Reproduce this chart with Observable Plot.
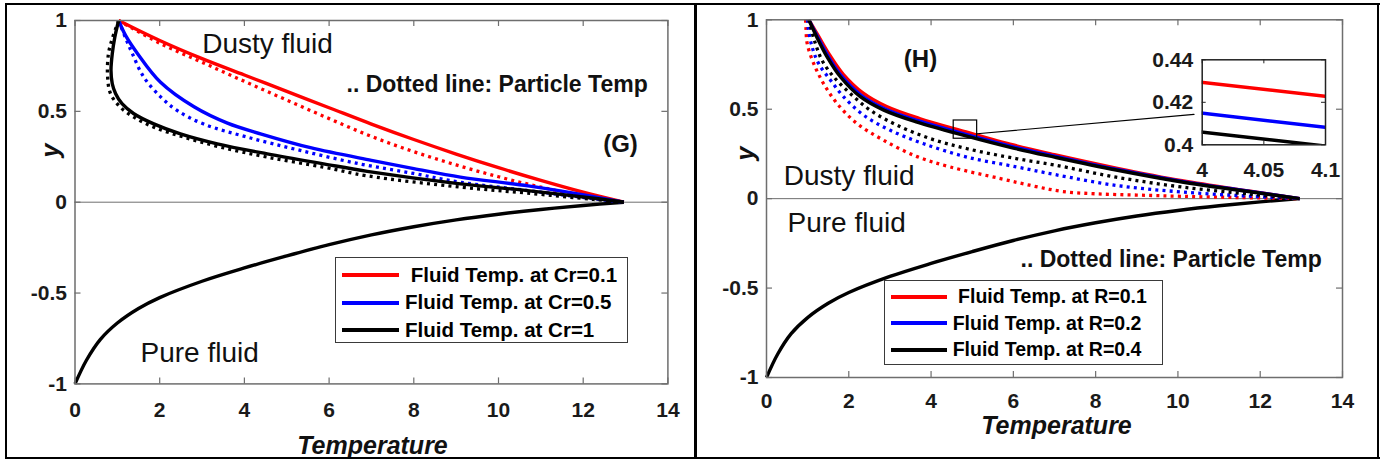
<!DOCTYPE html>
<html>
<head>
<meta charset="utf-8">
<script src="https://cdn.jsdelivr.net/npm/d3@7"></script>
<script src="https://cdn.jsdelivr.net/npm/@observablehq/plot@0.6"></script>
<style>
  html, body { margin: 0; padding: 0; background: #fff; }
  #fig { position: relative; width: 1382px; height: 462px; overflow: hidden; background: #fff;
         font-family: "Liberation Sans", Arial, Helvetica, sans-serif; }
  .pane { position: absolute; }
  .pane svg { overflow: visible; }
  .rule { position: absolute; background: #000; }
  .legend { position: absolute; background: #fff; border: 1.5px solid #3a3a3a; box-sizing: border-box; }
  .legend .sw { position: absolute; height: 4px; }
  .legend .lab { position: absolute; white-space: pre; font-weight: bold; color: #000; line-height: 1; }
</style>
</head>
<body>
<div id="fig"></div>
<script>
// ---------- axis ticks ----------
const xTicks = [0, 2, 4, 6, 8, 10, 12, 14];
const yTicks = [-1, -0.5, 0, 0.5, 1];
const insetXTicks = [4, 4.05, 4.1];
const insetYTicks = [0.4, 0.42, 0.44];

// ---------- pure fluid (same in both panels) [Temperature, y] ----------
const pureFluid = [[0,-1],[0.27,-0.87],[0.6,-0.755],[1.0,-0.665],[1.5,-0.585],[2,-0.525],[3,-0.435],
  [4,-0.362],[5,-0.296],[6,-0.234],[7,-0.18],[8,-0.135],[9,-0.097],[10,-0.066],[11,-0.04],[12,-0.018],[12.96,0]];

// ---------- panel (G): dusty fluid, Cr = 0.1, 0.5, 1 ----------
const gFluidCr01 = [[1.03,1],[2,0.89],[3,0.79],[4,0.70],[5,0.61],[6,0.52],[7,0.43],[8,0.345],[9,0.265],
  [10,0.19],[11,0.12],[12,0.055],[12.96,0]];
const gParticleCr01 = [[1.03,1],[2,0.875],[3,0.77],[4,0.665],[5,0.562],[6,0.46],[7,0.362],[8,0.278],
  [9,0.205],[10,0.14],[11,0.083],[12,0.035],[12.96,0]];
const gFluidCr05 = [[1.03,1],[1.2,0.915],[1.47,0.82],[2.02,0.66],[2.81,0.525],[3.6,0.435],[4.4,0.375],
  [5.56,0.30],[7,0.23],[8,0.185],[9.1,0.138],[10.7,0.09],[12.25,0.031],[12.96,0]];
const gParticleCr05 = [[1.03,1],[1.2,0.9],[1.35,0.82],[1.62,0.69],[2.02,0.58],[2.41,0.505],[3.04,0.43],
  [4.07,0.358],[5.32,0.285],[6.74,0.21],[8,0.158],[9.1,0.11],[10.7,0.064],[12.25,0.019],[12.96,0]];
const gFluidCr1 = [[1.03,1],[0.94,0.908],[0.88,0.817],[0.85,0.725],[0.88,0.652],[0.96,0.597],[1.11,0.542],
  [1.39,0.487],[1.86,0.431],[2.49,0.376],[3.36,0.321],[4.54,0.266],[5.87,0.211],[6.9,0.17],[9.1,0.101],
  [10.68,0.064],[12.25,0.022],[12.96,0]];
const gParticleCr1 = [[1.03,1],[0.88,0.9],[0.79,0.817],[0.77,0.688],[0.84,0.597],[1.07,0.523],[1.39,0.468],
  [1.86,0.413],[2.57,0.358],[3.44,0.303],[4.54,0.248],[5.87,0.193],[6.9,0.145],[9.1,0.083],[10.68,0.05],
  [12.25,0.015],[12.96,0]];

// ---------- panel (H): dusty fluid, R = 0.1, 0.2, 0.4 ----------
const hFluidR01 = [[1.03,1],[1.26,0.91],[1.53,0.805],[1.86,0.697],[2.35,0.59],[2.92,0.515],[3.72,0.448],
  [4.85,0.373],[6,0.3],[7,0.246],[8.5,0.171],[10.1,0.1],[11.8,0.04],[12.96,0]];
const hFluidR02 = [[1.03,1],[1.24,0.905],[1.5,0.795],[1.82,0.686],[2.3,0.578],[2.87,0.503],[3.68,0.436],
  [4.8,0.362],[6,0.29],[7,0.238],[8.5,0.165],[10.1,0.097],[11.8,0.039],[12.96,0]];
const hFluidR04 = [[1.03,1],[1.23,0.9],[1.48,0.79],[1.8,0.68],[2.28,0.57],[2.85,0.495],[3.66,0.428],
  [4.8,0.354],[6,0.283],[7,0.232],[8.5,0.16],[10.1,0.093],[11.8,0.037],[12.96,0]];
const hParticleR01 = [[0.95,1],[0.96,0.95],[0.99,0.866],[1.15,0.754],[1.39,0.642],[1.72,0.531],[2.2,0.42],
  [2.85,0.326],[3.66,0.235],[4.47,0.177],[5.69,0.112],[6.5,0.07],[7.2,0.04],[8,0.027],[9,0.02],
  [10.1,0.013],[11.5,0.006],[12.96,0]];
const hParticleR02 = [[1.0,1],[1.01,0.96],[1.11,0.847],[1.27,0.754],[1.56,0.661],[1.88,0.568],[2.37,0.465],
  [3.01,0.382],[3.82,0.307],[4.88,0.232],[6.09,0.177],[7,0.135],[8.5,0.074],[10.1,0.037],[11.8,0.013],[12.96,0]];
const hParticleR04 = [[1.03,1],[1.05,0.978],[1.19,0.866],[1.35,0.773],[1.64,0.679],[2.04,0.587],[2.53,0.493],
  [3.18,0.41],[3.99,0.335],[4.88,0.279],[6.09,0.223],[7,0.188],[8.5,0.12],[10.1,0.065],[11.8,0.024],[12.96,0]];

// zoom window marked on panel (H) and its connector
const zoomBox = [{x1: 4.55, x2: 5.12, y1: 0.335, y2: 0.437}];
const zoomConnector = [[5.12, 0.363], [10.39, 0.471]];

// legend labels
const legendG = [" Fluid Temp. at Cr=0.1", "Fluid Temp. at Cr=0.5", "Fluid Temp. at Cr=1"];
const legendH = [" Fluid Temp. at R=0.1", "Fluid Temp. at R=0.2", "Fluid Temp. at R=0.4"];

// ---------- drawing ----------
const RED = "#ff0000", BLUE = "#0000ff", BLACK = "#000000";
const AX = "#6e6e6e";
const FONT = "'Liberation Sans', Arial, Helvetica, sans-serif";
const fig = document.getElementById("fig");

function curveMarks(list) {
  return list.map(s => Plot.line(s.data, {
    x: d => d[0], y: d => d[1], stroke: s.color, strokeWidth: s.dotted ? 3.3 : 3.4,
    strokeDasharray: s.dotted ? "3,4.2" : undefined, strokeLinecap: "butt", curve: "catmull-rom"
  }));
}
function label(text, dx, dy, o = {}) {
  return Plot.text([text], {
    text: d => d, frameAnchor: "top-left", dx, dy,
    textAnchor: o.anchor || "start", lineAnchor: "middle",
    fontSize: o.size || 28, fontWeight: o.weight || "normal", fontStyle: o.style || "normal",
    fill: "#111", rotate: o.rotate || 0
  });
}
function makePanel(cfg) {
  const {width, height, mL, mR, mT, mB, lines, extras, texts, xPad} = cfg;
  const pw = width - mL - mR, ph = height - mT - mB;
  return Plot.plot({
    width, height, marginLeft: mL, marginRight: mR, marginTop: mT, marginBottom: mB,
    x: {domain: [0, 14]}, y: {domain: [-1, 1]},
    style: {fontFamily: FONT, fontSize: "21px", fontWeight: "bold", color: "#1a1a1a", background: "transparent", overflow: "visible"},
    marks: [
      Plot.ruleY([0], {stroke: AX, strokeWidth: 1}),
      ...curveMarks(lines),
      ...extras,
      Plot.frame({stroke: AX, strokeWidth: 1.5}),
      Plot.tickX(xTicks, {x: d => d, insetTop: ph - 6, stroke: AX, strokeWidth: 1.2}),
      Plot.tickX(xTicks, {x: d => d, insetBottom: ph - 6, stroke: AX, strokeWidth: 1.2}),
      Plot.tickY(yTicks, {y: d => d, insetRight: pw - 6, stroke: AX, strokeWidth: 1.2}),
      Plot.tickY(yTicks, {y: d => d, insetLeft: pw - 6, stroke: AX, strokeWidth: 1.2}),
      Plot.axisX({ticks: xTicks, tickSize: 0, tickPadding: xPad, tickFormat: d => String(d), label: null,
                  fontSize: 21, fontWeight: "bold"}),
      Plot.axisY({ticks: yTicks, tickSize: 0, tickPadding: 8, tickFormat: d => String(d), label: null,
                  fontSize: 21, fontWeight: "bold"}),
      ...texts
    ]
  });
}
function place(node, left, top) {
  const d = document.createElement("div");
  d.className = "pane"; d.style.left = left + "px"; d.style.top = top + "px";
  d.appendChild(node); fig.appendChild(d);
}
function legend(left, top, w, h, labels, o) {
  const box = document.createElement("div");
  box.className = "legend";
  Object.assign(box.style, {left: left + "px", top: top + "px", width: w + "px", height: h + "px"});
  const colors = [RED, BLUE, BLACK];
  labels.forEach((t, i) => {
    const sw = document.createElement("div");
    sw.className = "sw";
    Object.assign(sw.style, {left: o.swL + "px", width: o.swW + "px", top: (o.rows[i] - 2) + "px", background: colors[i]});
    box.appendChild(sw);
    const lb = document.createElement("div");
    lb.className = "lab"; lb.textContent = t;
    Object.assign(lb.style, {left: o.textL + "px", top: (o.rows[i] - o.size * 0.5) + "px", fontSize: o.size + "px"});
    box.appendChild(lb);
  });
  fig.appendChild(box);
}

// Panel G
const G = makePanel({
  width: 690, height: 462, mL: 74.5, mR: 22.6, mT: 20, mB: 78.6, xPad: 18,
  lines: [
    {data: pureFluid, color: BLACK},
    {data: gParticleCr01, color: RED, dotted: true},
    {data: gFluidCr01, color: RED},
    {data: gParticleCr05, color: BLUE, dotted: true},
    {data: gFluidCr05, color: BLUE},
    {data: gParticleCr1, color: BLACK, dotted: true},
    {data: gFluidCr1, color: BLACK}
  ],
  extras: [],
  texts: [
    label("Dusty fluid", 127.2, 23.5),
    label(".. Dotted line: Particle Temp", 271.5, 64.3, {size: 23, weight: "bold"}),
    label("(G)", 545.5, 124, {size: 24, weight: "bold", anchor: "middle"}),
    label("Pure fluid", 65.5, 333),
    label("Temperature", 297.5, 425, {size: 25, weight: "bold", style: "italic", anchor: "middle"}),
    label("y", -24, 130, {size: 25, weight: "bold", style: "italic", anchor: "middle", rotate: -90})
  ]
});
place(G, 0, 0);

// Panel H
const H = makePanel({
  width: 686, height: 462, mL: 70, mR: 40, mT: 19.3, mB: 85, xPad: 16,
  lines: [
    {data: pureFluid, color: BLACK},
    {data: hParticleR01, color: RED, dotted: true},
    {data: hParticleR02, color: BLUE, dotted: true},
    {data: hParticleR04, color: BLACK, dotted: true},
    {data: hFluidR01, color: RED},
    {data: hFluidR02, color: BLUE},
    {data: hFluidR04, color: BLACK}
  ],
  extras: [
    Plot.rect(zoomBox, {x1: "x1", x2: "x2", y1: "y1", y2: "y2", fill: "none", stroke: "#000", strokeWidth: 1.2}),
    Plot.line(zoomConnector, {x: d => d[0], y: d => d[1], stroke: "#000", strokeWidth: 1.2})
  ],
  texts: [
    label("(H)", 154, 39.7, {size: 24, weight: "bold", anchor: "middle"}),
    label("Dusty fluid", 17.3, 156.7),
    label("Pure fluid", 21, 203.4),
    label(".. Dotted line: Particle Temp", 254, 240.3, {size: 23, weight: "bold"}),
    label("Temperature", 290, 406, {size: 25, weight: "bold", style: "italic", anchor: "middle"}),
    label("y", -20.3, 133.7, {size: 25, weight: "bold", style: "italic", anchor: "middle", rotate: -90})
  ]
});
place(H, 696, 0);

// Inset (zoom of panel H)
const iw = 200, ih = 140, imL = 61.7, imR = 15, imT = 19.3, imB = 35.7;
const ipw = iw - imL - imR, iph = ih - imT - imB;
const inset = Plot.plot({
  width: iw, height: ih, marginLeft: imL, marginRight: imR, marginTop: imT, marginBottom: imB,
  x: {domain: [4, 4.1]}, y: {domain: [0.4, 0.44]},
  style: {fontFamily: FONT, fontSize: "21px", fontWeight: "bold", color: "#1a1a1a", background: "transparent", overflow: "visible"},
  marks: [
    Plot.frame({fill: "#fff"}),
    ...[[hFluidR01, RED], [hFluidR02, BLUE], [hFluidR04, BLACK]].map(([data, c]) =>
      Plot.line(data, {x: d => d[0], y: d => d[1], stroke: c, strokeWidth: 3.5, clip: true})),
    Plot.frame({stroke: "#222", strokeWidth: 1.5}),
    Plot.tickX(insetXTicks, {x: d => d, insetTop: iph - 4, stroke: "#222"}),
    Plot.tickX(insetXTicks, {x: d => d, insetBottom: iph - 4, stroke: "#222"}),
    Plot.tickY(insetYTicks, {y: d => d, insetRight: ipw - 4, stroke: "#222"}),
    Plot.tickY(insetYTicks, {y: d => d, insetLeft: ipw - 4, stroke: "#222"}),
    Plot.axisX({ticks: insetXTicks, tickSize: 0, tickPadding: 17, tickFormat: d => String(d), label: null,
                fontSize: 21, fontWeight: "bold"}),
    Plot.axisY({ticks: insetYTicks, tickSize: 0, tickPadding: 9, tickFormat: d => String(d), label: null,
                fontSize: 21, fontWeight: "bold"})
  ]
});
place(inset, 1140, 40);

// Legends
legend(335.4, 257.3, 293, 85.4, legendG, {swL: 5.6, swW: 57, textL: 68.6, rows: [16.7, 44.4, 72], size: 20.5});
legend(884, 280, 279.3, 85, legendH, {swL: 6, swW: 56, textL: 67.7, rows: [16, 42.3, 69], size: 19.5});

// Outer frame and divider
[[5, 3, 1375, 2], [5, 457, 1375, 2], [5, 3, 2, 456], [694, 3, 2.5, 456], [1377, 3, 2, 456]].forEach(([l, t, w, h]) => {
  const r = document.createElement("div");
  r.className = "rule";
  Object.assign(r.style, {left: l + "px", top: t + "px", width: w + "px", height: h + "px"});
  fig.appendChild(r);
});
</script>
</body>
</html>
